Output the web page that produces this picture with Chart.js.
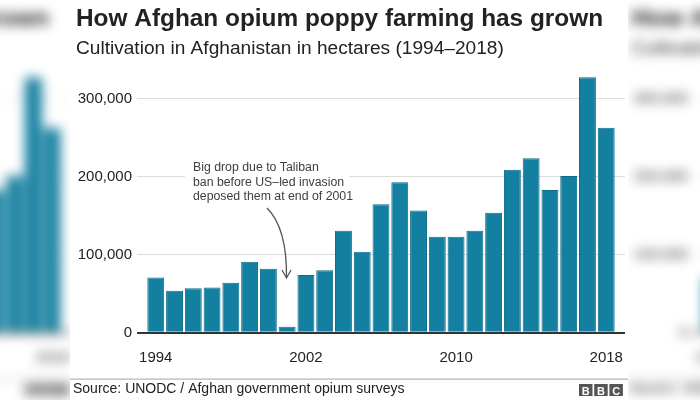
<!DOCTYPE html>
<html>
<head>
<meta charset="utf-8">
<script src="https://cdn.jsdelivr.net/npm/chart.js@4.4.1/dist/chart.umd.min.js"></script>
<style>
  html, body { margin: 0; padding: 0; background: #fff; }
  #wrap { position: relative; width: 700px; height: 400px; overflow: hidden; }
  #bg { position: absolute; left: 0; top: 0; }
  #panel { position: absolute; left: 70px; top: 0; width: 558px; height: 400px; background: #fff; }
</style>
</head>
<body>
<div id="wrap">
  <canvas id="bg" width="700" height="400"></canvas>
  <div id="panel"><canvas id="chart" width="558" height="400"></canvas></div>
</div>
<script>
// Poppy cultivation, hectares
const years = [1994, 1995, 1996, 1997, 1998, 1999, 2000, 2001, 2002, 2003, 2004, 2005, 2006,
               2007, 2008, 2009, 2010, 2011, 2012, 2013, 2014, 2015, 2016, 2017, 2018]
const hectares = [71000, 54000, 57000, 58000, 64000, 91000, 82000, 7600, 74000, 80000, 131000, 104000, 165000,
                  193000, 157000, 123000, 123000, 131000, 154000, 209000, 224000, 183000, 201000, 328000, 263000]
const xTickYears = [1994, 2002, 2010, 2018]
const yTickValues = [0, 100000, 200000, 300000]

const title = "How Afghan opium poppy farming has grown"
const subtitle = "Cultivation in Afghanistan in hectares (1994\u20132018)"
const noteLines = ["Big drop due to Taliban", "ban before US\u2013led invasion", "deposed them at end of 2001"]
const source = "Source: UNODC / Afghan government opium surveys"

const FONT = "'Liberation Sans', Arial, Helvetica, sans-serif"
const barColor = "#1380a1"

const textPlugin = {
    id: "bbcText",
    beforeDraw(chart) {
        const ctx = chart.ctx
        ctx.save()
        ctx.fillStyle = "#fff"
        ctx.fillRect(0, 0, chart.width, chart.height)
        ctx.restore()
    },
    afterDatasetsDraw(chart) {
        const ctx = chart.ctx
        ctx.save()
        // white box behind the note so it cuts the gridline
        ctx.fillStyle = "#fff"
        ctx.fillRect(115, 156, 164, 48)

        ctx.fillStyle = "#404040"
        ctx.font = "12.3px " + FONT
        ctx.textBaseline = "alphabetic"
        noteLines.forEach((l, i) => ctx.fillText(l, 123, 171 + i * 14.6))

        // curved arrow down to the 2001 bar
        ctx.strokeStyle = "#555"
        ctx.lineWidth = 1.3
        ctx.beginPath()
        ctx.moveTo(197, 208)
        ctx.quadraticCurveTo(217, 228, 216.5, 277)
        ctx.stroke()
        ctx.beginPath()
        ctx.moveTo(212, 270)
        ctx.lineTo(216.5, 278)
        ctx.lineTo(221, 270)
        ctx.stroke()
        ctx.restore()
    },
    afterDraw(chart) {
        const ctx = chart.ctx
        ctx.save()
        ctx.fillStyle = "#222"
        ctx.textBaseline = "alphabetic"
        ctx.font = "bold 24.4px " + FONT
        ctx.fillText(title, 6, 26)
        ctx.font = "19.1px " + FONT
        ctx.fillText(subtitle, 6, 54)

        // footer
        ctx.fillStyle = "#b3b3b3"
        ctx.fillRect(0, 378.5, chart.width, 1.2)
        ctx.fillStyle = "#222"
        ctx.font = "14px " + FONT
        ctx.fillText(source, 3, 393)

        // BBC blocks
        ctx.font = "bold 11px " + FONT
        ctx.textAlign = "center"
        ;["B", "B", "C"].forEach((ch, i) => {
            const x = 509 + i * 15.2
            ctx.fillStyle = "#555"
            ctx.fillRect(x, 384, 13.5, 12)
            ctx.fillStyle = "#fff"
            ctx.fillText(ch, x + 6.8, 394.5)
        })
        ctx.restore()
    },
    afterRender(chart) {
        // blurred tiles of the panel for the side margins
        const bg = document.getElementById("bg").getContext("2d")
        bg.fillStyle = "#fff"
        bg.fillRect(0, 0, 700, 400)
        bg.save()
        bg.filter = "blur(6px)"
        bg.drawImage(chart.canvas, -484, 0, 558, 400)
        bg.drawImage(chart.canvas, 626, 0, 558, 400)
        bg.restore()
    }
}

new Chart(document.getElementById("chart"), {
    type: "bar",
    data: {
        datasets: [{
            data: years.map((y, i) => ({ x: y, y: hectares[i] })),
            backgroundColor: barColor,
            borderColor: "#0f6d8a",
            borderWidth: 1,
            borderSkipped: "bottom",
            categoryPercentage: 1,
            barPercentage: 0.9
        }]
    },
    options: {
        responsive: false,
        animation: false,
        events: [],
        layout: { padding: { top: 67.8, right: 3, bottom: 0, left: 0 } },
        plugins: { legend: { display: false }, tooltip: { enabled: false } },
        scales: {
            x: {
                type: "linear",
                min: 1993,
                max: 2019,
                offset: false,
                grid: { display: false, drawTicks: false, offset: false },
                border: { display: false },
                afterBuildTicks: (s) => { s.ticks = xTickYears.map(v => ({ value: v })) },
                afterFit: (s) => { s.height = 67.3; s.paddingLeft = 0; s.paddingRight = 0 },
                ticks: {
                    autoSkip: false,
                    maxRotation: 0,
                    padding: 16,
                    color: "#222",
                    font: { family: FONT, size: 15 },
                    callback: (v) => String(v)
                }
            },
            y: {
                min: 0,
                max: 340000,
                grid: {
                    drawTicks: false,
                    color: (c) => c.tick && c.tick.value === 0 ? "#333" : "#dcdcdc",
                    lineWidth: (c) => c.tick && c.tick.value === 0 ? 2 : 1
                },
                border: { display: false },
                afterBuildTicks: (s) => { s.ticks = yTickValues.map(v => ({ value: v })) },
                afterFit: (s) => { s.width = 67 },
                ticks: {
                    padding: 5,
                    color: "#222",
                    font: { family: FONT, size: 15 },
                    callback: (v) => v.toLocaleString("en-US")
                }
            }
        }
    },
    plugins: [textPlugin]
})
</script>
</body>
</html>
